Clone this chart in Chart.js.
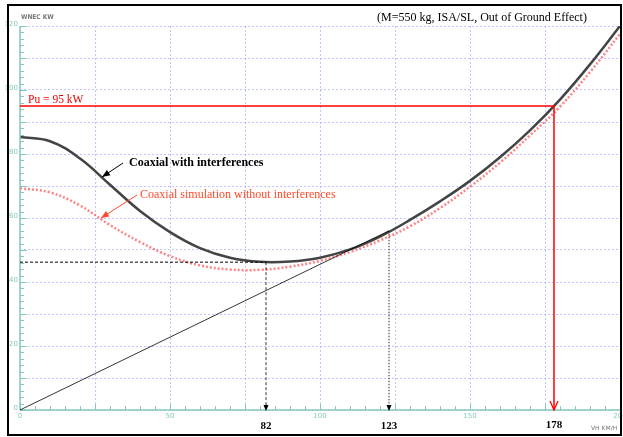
<!DOCTYPE html>
<html>
<head>
<meta charset="utf-8">
<script src="https://cdn.jsdelivr.net/npm/chart.js@4.4.1/dist/chart.umd.min.js"></script>
<style>
  html, body { margin: 0; padding: 0; background: #fff; }
  canvas { display: block; }
</style>
</head>
<body>
<canvas id="c" width="623" height="437"></canvas>
<script>
// Forward speed (km/h)
const speeds = [0, 10, 20, 30, 40, 50, 60, 70, 80, 90, 100, 110, 120, 130, 140, 150, 160, 170, 180, 190, 200];
// Power required, coaxial rotor with interferences (kW)
const powerWithInterf = [85.3, 84.0, 78.6, 70.4, 62.2, 55.6, 50.6, 47.6, 46.3, 46.4, 47.6, 50.2, 54.2, 59.4, 65.2, 71.6, 79.0, 87.4, 97.0, 108.0, 120.0];
// Power required, coaxial simulation without interferences (kW)
const powerNoInterf = [69.3, 68.0, 63.9, 57.8, 52.5, 48.1, 45.2, 43.9, 43.8, 44.8, 46.6, 49.4, 53.0, 57.4, 63.1, 69.8, 77.3, 85.8, 94.8, 105.6, 117.5];

// Installed power and characteristic speeds
const installedPower = 95;          // kW
const minPowerSpeed = 82;           // km/h, minimum power
const minPower = 46.2;              // kW
const maxRangeSpeed = 123;          // km/h, tangent from origin
const maxRangePower = 56;           // kW
const maxSpeed = 178;               // km/h at installed power

const xTickLabels = [0, 50, 100, 150, 200];
const yTickLabels = [0, 20, 40, 60, 80, 100, 120];

const TEAL = '#86c9bd';
const SERIF = '"Liberation Serif", "Times New Roman", serif';

const pts = (xs, ys) => xs.map((x, i) => ({ x, y: ys[i] }));

const overlay = {
  id: 'overlay',
  afterDatasetsDraw(chart) {
    const ctx = chart.ctx;
    const xs = chart.scales.x, ys = chart.scales.y;
    const X = v => xs.getPixelForValue(v);
    const Y = v => ys.getPixelForValue(v);
    ctx.save();

    // axes with minor ticks
    ctx.strokeStyle = TEAL;
    ctx.lineWidth = 1.5;
    ctx.beginPath();
    ctx.moveTo(X(0), Y(0)); ctx.lineTo(X(0), Y(120));
    ctx.moveTo(X(0), Y(0)); ctx.lineTo(X(200), Y(0));
    ctx.stroke();
    ctx.lineWidth = 1;
    ctx.beginPath();
    for (let v = 0; v <= 120; v += 2) {
      const len = v % 10 === 0 ? 7 : 4;
      ctx.moveTo(X(0), Math.round(Y(v)) + 0.5);
      ctx.lineTo(X(0) + len, Math.round(Y(v)) + 0.5);
    }
    for (let v = 0; v <= 200; v += 5) {
      const len = v % 25 === 0 ? 6 : 4;
      ctx.moveTo(Math.round(X(v)) + 0.5, Y(0));
      ctx.lineTo(Math.round(X(v)) + 0.5, Y(0) - len);
    }
    ctx.stroke();

    // tick labels
    ctx.fillStyle = TEAL;
    ctx.font = '7px "DejaVu Sans", sans-serif';
    ctx.textAlign = 'right';
    ctx.textBaseline = 'middle';
    yTickLabels.forEach(v => ctx.fillText(String(v), X(0) - 2, Y(v) - 2));
    ctx.textAlign = 'center';
    ctx.textBaseline = 'top';
    xTickLabels.forEach(v => ctx.fillText(String(v), X(v), Y(0) + 3));

    // axis titles
    ctx.fillStyle = '#777';
    ctx.font = 'bold 6.5px "DejaVu Sans Condensed", "DejaVu Sans", sans-serif';
    ctx.textAlign = 'left';
    ctx.textBaseline = 'alphabetic';
    ctx.fillText('WNEC KW', 21, 19);
    ctx.font = '6px "DejaVu Sans", sans-serif';
    ctx.fillText('VH KM/H', 591, 430);

    // title
    ctx.fillStyle = '#000';
    ctx.font = '12px ' + SERIF;
    ctx.textAlign = 'center';
    ctx.fillText('(M=550 kg, ISA/SL, Out of Ground Effect)', 482, 21);

    // installed power label
    ctx.fillStyle = '#e00';
    ctx.font = '11.5px ' + SERIF;
    ctx.textAlign = 'left';
    ctx.fillText('Pu = 95 kW', 28, 103);

    // tangent from origin
    ctx.strokeStyle = '#000';
    ctx.lineWidth = 0.8;
    ctx.setLineDash([]);
    ctx.beginPath();
    ctx.moveTo(X(0), Y(0));
    ctx.lineTo(X(maxRangeSpeed), Y(maxRangePower));
    ctx.stroke();

    // dashed guides to minimum power
    ctx.lineWidth = 1;
    ctx.setLineDash([3, 2]);
    ctx.beginPath();
    ctx.moveTo(X(0), Y(minPower));
    ctx.lineTo(X(minPowerSpeed), Y(minPower));
    ctx.stroke();
    ctx.lineWidth = 0.8;
    ctx.beginPath();
    ctx.moveTo(X(minPowerSpeed), Y(minPower));
    ctx.lineTo(X(minPowerSpeed), Y(0) - 5);
    ctx.stroke();
    // dotted guide at max range speed
    ctx.setLineDash([1.5, 1.5]);
    ctx.beginPath();
    ctx.moveTo(X(maxRangeSpeed), Y(maxRangePower));
    ctx.lineTo(X(maxRangeSpeed), Y(0) - 5);
    ctx.stroke();
    ctx.setLineDash([]);

    const tri = (x, y, col, w, h) => {
      ctx.fillStyle = col;
      ctx.beginPath();
      ctx.moveTo(x, y);
      ctx.lineTo(x - w, y - h);
      ctx.lineTo(x + w, y - h);
      ctx.closePath();
      ctx.fill();
    };
    tri(X(minPowerSpeed), Y(0) + 1, '#000', 2.5, 6);
    tri(X(maxRangeSpeed), Y(0) + 1, '#000', 2.5, 6);

    // installed power line and arrow
    ctx.strokeStyle = '#f00';
    ctx.lineWidth = 1.5;
    ctx.beginPath();
    ctx.moveTo(X(0), Y(installedPower));
    ctx.lineTo(X(maxSpeed), Y(installedPower));
    ctx.lineTo(X(maxSpeed), Y(0));
    ctx.stroke();
    ctx.lineWidth = 1.3;
    ctx.beginPath();
    ctx.moveTo(X(maxSpeed) - 4, Y(0) - 9);
    ctx.lineTo(X(maxSpeed), Y(0));
    ctx.lineTo(X(maxSpeed) + 4, Y(0) - 9);
    ctx.stroke();

    // speed labels
    ctx.fillStyle = '#000';
    ctx.font = 'bold 11px ' + SERIF;
    ctx.textAlign = 'center';
    ctx.textBaseline = 'alphabetic';
    ctx.fillText(String(minPowerSpeed), X(minPowerSpeed), 429);
    ctx.fillText(String(maxRangeSpeed), X(maxRangeSpeed), 429);
    ctx.fillText(String(maxSpeed), X(maxSpeed), 428);

    // curve callouts
    const arrow = (x1, y1, x2, y2, col) => {
      ctx.strokeStyle = col;
      ctx.fillStyle = col;
      ctx.lineWidth = 1;
      ctx.beginPath();
      ctx.moveTo(x1, y1); ctx.lineTo(x2, y2); ctx.stroke();
      const a = Math.atan2(y2 - y1, x2 - x1);
      const L = 8, W = 3.2;
      ctx.beginPath();
      ctx.moveTo(x2, y2);
      ctx.lineTo(x2 - L * Math.cos(a) + W * Math.sin(a), y2 - L * Math.sin(a) - W * Math.cos(a));
      ctx.lineTo(x2 - L * Math.cos(a) - W * Math.sin(a), y2 - L * Math.sin(a) + W * Math.cos(a));
      ctx.closePath();
      ctx.fill();
    };
    arrow(123, 163, 102, 177, '#000');
    arrow(137, 195, 101, 218, '#ff4a2a');

    ctx.fillStyle = '#000';
    ctx.font = 'bold 12px ' + SERIF;
    ctx.textAlign = 'left';
    ctx.textBaseline = 'middle';
    ctx.fillText('Coaxial with interferences', 129, 163);
    ctx.fillStyle = '#ff4a2a';
    ctx.font = '12px ' + SERIF;
    ctx.fillText('Coaxial simulation without interferences', 140, 195);

    // frame
    ctx.strokeStyle = '#000';
    ctx.lineWidth = 2;
    ctx.strokeRect(8, 5, 613, 430);
    ctx.restore();
  }
};

new Chart(document.getElementById('c'), {
  type: 'line',
  data: {
    datasets: [
      {
        label: 'Coaxial with interferences',
        data: pts(speeds, powerWithInterf),
        borderColor: '#444',
        borderWidth: 2.5,
        pointRadius: 0,
        tension: 0.4,
        fill: false
      },
      {
        label: 'Coaxial simulation without interferences',
        data: pts(speeds, powerNoInterf),
        borderColor: 'rgba(255, 90, 90, 0.75)',
        borderWidth: 2.5,
        borderDash: [2, 2],
        pointRadius: 0,
        tension: 0.4,
        fill: false
      }
    ]
  },
  options: {
    responsive: false,
    animation: false,
    events: [],
    layout: { padding: { left: 20, right: 3, top: 26, bottom: 27 } },
    plugins: { legend: { display: false }, tooltip: { enabled: false } },
    scales: {
      x: {
        type: 'linear', min: 0, max: 200,
        ticks: { display: false, stepSize: 25 },
        grid: { color: 'rgba(130, 140, 255, 0.5)', lineWidth: 1, drawTicks: false },
        border: { display: false, dash: [2, 2] }
      },
      y: {
        type: 'linear', min: 0, max: 120,
        ticks: { display: false, stepSize: 10 },
        grid: { color: 'rgba(130, 140, 255, 0.5)', lineWidth: 1, drawTicks: false },
        border: { display: false, dash: [2, 2] }
      }
    }
  },
  plugins: [overlay]
});
</script>
</body>
</html>
